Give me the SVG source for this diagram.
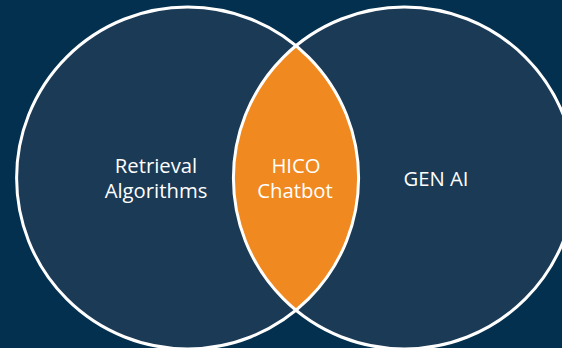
<svg xmlns="http://www.w3.org/2000/svg" width="562" height="348" viewBox="0 0 562 348">
  <style>
    .set { fill: #1b3a56; }
    .ring { fill: none; stroke: #ffffff; stroke-width: 3; }
    .lens { fill: #f0891f; }
    .lbl { font-family: "Open Sans", "Liberation Sans", sans-serif; font-size: 20.3px; fill: #ffffff; text-anchor: middle; }
  </style>
  <rect width="562" height="348" fill="#03304f"/>
  <g id="retrieval-algorithms">
    <circle class="set" cx="187.6" cy="178" r="171"/>
  </g>
  <g id="gen-ai">
    <circle class="set" cx="404.4" cy="178" r="171"/>
  </g>
  <g id="hico-chatbot">
    <path class="lens" d="M296,45.8 A171,171 0 0 1 296,310.2 A171,171 0 0 1 296,45.8 Z"/>
  </g>
  <g id="outlines">
    <circle class="ring" cx="187.6" cy="178" r="171"/>
    <circle class="ring" cx="404.4" cy="178" r="171"/>
  </g>
  <g id="labels">
    <text class="lbl" x="156" y="173">Retrieval</text>
    <text class="lbl" x="156" y="198">Algorithms</text>
    <text class="lbl" x="296" y="173">HICO</text>
    <text class="lbl" x="295" y="198">Chatbot</text>
    <text class="lbl" x="436" y="186">GEN AI</text>
  </g>
</svg>
